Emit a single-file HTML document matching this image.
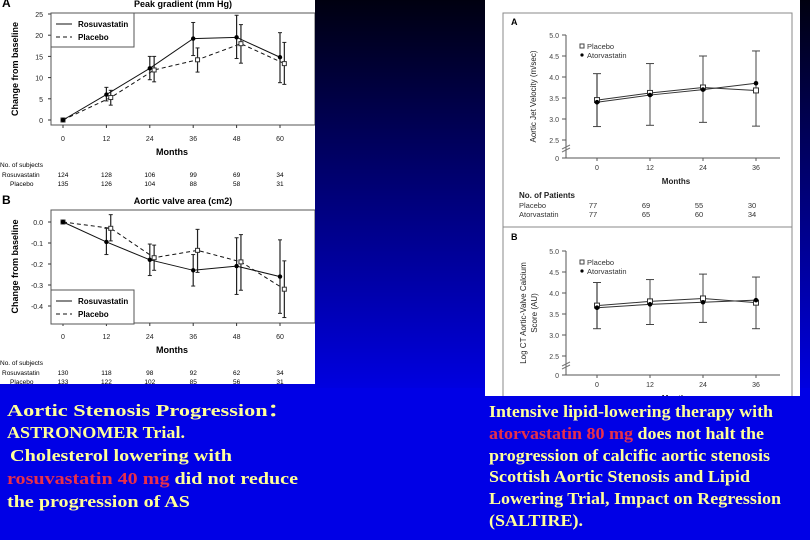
<!DOCTYPE html>
<html><head><meta charset="utf-8"><style>
html,body{margin:0;padding:0}
body{width:810px;height:540px;overflow:hidden;background:#0000e6;position:relative}
svg{position:absolute;left:0;top:0}
</style></head><body>
<svg id="s" width="810" height="540" viewBox="0 0 810 540" xmlns="http://www.w3.org/2000/svg">
<defs><linearGradient id="bg" x1="0" y1="0" x2="0" y2="1"><stop offset="0" stop-color="#000010"/><stop offset="1" stop-color="#0000e0"/></linearGradient>
<clipPath id="rc"><rect x="485" y="0" width="315" height="396"/></clipPath>
<clipPath id="lc"><rect x="0" y="0" width="315" height="384"/></clipPath></defs>
<rect x="0" y="0" width="810" height="388" fill="url(#bg)"/>
<rect x="0" y="0" width="315" height="384" fill="#fff"/>
<rect x="485" y="0" width="315" height="396" fill="#fff"/>
<g id="gl" clip-path="url(#lc)"></g>
<g id="gr" clip-path="url(#rc)"></g>
<g font-family="Liberation Serif, serif" font-weight="bold" font-size="17" fill="#ffff99">
<text x="7" y="416" textLength="283" lengthAdjust="spacingAndGlyphs">Aortic Stenosis Progression：</text>
<text x="7" y="438" textLength="178" lengthAdjust="spacingAndGlyphs">ASTRONOMER Trial.</text>
<text x="10" y="461" textLength="222" lengthAdjust="spacingAndGlyphs">Cholesterol lowering with</text>
<text x="7" y="484" textLength="291" lengthAdjust="spacingAndGlyphs"><tspan fill="#e8304a">rosuvastatin 40 mg</tspan> did not reduce</text>
<text x="7" y="507" textLength="183" lengthAdjust="spacingAndGlyphs">the progression of AS</text>
</g>
<g font-family="Liberation Serif, serif" font-weight="bold" font-size="17" fill="#ffff99">
<text x="489" y="417" textLength="284" lengthAdjust="spacingAndGlyphs">Intensive lipid-lowering therapy with</text>
<text x="489" y="439" textLength="275" lengthAdjust="spacingAndGlyphs"><tspan fill="#e8304a">atorvastatin 80 mg</tspan> does not halt the</text>
<text x="489" y="461" textLength="281" lengthAdjust="spacingAndGlyphs">progression of calcific aortic stenosis</text>
<text x="489" y="482" textLength="261" lengthAdjust="spacingAndGlyphs">Scottish Aortic Stenosis and Lipid</text>
<text x="489" y="504" textLength="292" lengthAdjust="spacingAndGlyphs">Lowering Trial, Impact on Regression</text>
<text x="489" y="526" textLength="94" lengthAdjust="spacingAndGlyphs">(SALTIRE).</text>
</g>
</svg>
<script>
// Left panel data (ASTRONOMER)
const monthsL=[0,12,24,36,48,60];
const pgRosu=[0,6,12.2,19.2,19.5,14.8];
const pgRosuLo=[0,4.5,9.5,15.2,14.5,8.8];
const pgRosuHi=[0,7.7,15,23,24.7,20.6];
const pgPlac=[0,5.3,11.8,14.2,18,13.3];
const pgPlacLo=[0,3.5,9,11.3,13.4,8.4];
const pgPlacHi=[0,7,15,17,22.5,18.3];
const pgTicks=[0,5,10,15,20,25];
const avRosu=[0,-0.095,-0.18,-0.23,-0.21,-0.26];
const avRosuLo=[0,-0.155,-0.255,-0.305,-0.345,-0.435];
const avRosuHi=[0,-0.03,-0.105,-0.155,-0.075,-0.085];
const avPlac=[0,-0.03,-0.17,-0.135,-0.19,-0.32];
const avPlacLo=[0,-0.09,-0.23,-0.24,-0.325,-0.455];
const avPlacHi=[0,0.035,-0.11,-0.035,-0.06,-0.185];
const avTicks=[0,-0.1,-0.2,-0.3,-0.4];
const avTickLabels=["0.0","-0.1","-0.2","-0.3","-0.4"];
const nA_Rosu=[124,128,106,99,69,34];
const nA_Plac=[135,126,104,88,58,31];
const nB_Rosu=[130,118,98,92,62,34];
const nB_Plac=[133,122,102,85,56,31];
// Right panel data (SALTIRE)
const monthsR=[0,12,24,36];
const velPlac=[3.45,3.62,3.75,3.68];
const velAtor=[3.4,3.57,3.7,3.85];
const velLo=[2.82,2.85,2.92,2.83];
const velHi=[4.08,4.32,4.5,4.62];
const caPlac=[3.7,3.8,3.87,3.77];
const caAtor=[3.65,3.73,3.78,3.83];
const caLo=[3.15,3.25,3.3,3.15];
const caHi=[4.25,4.32,4.45,4.38];
const rTicks=[2.5,3.0,3.5,4.0,4.5,5.0];
const rTickLabels=["2.5","3.0","3.5","4.0","4.5","5.0"];
const nR_Plac=[77,69,55,30];
const nR_Ator=[77,65,60,34];

const NS="http://www.w3.org/2000/svg";
const GL=document.getElementById('gl');
const GR=document.getElementById('gr');
let G=GL;
function mk(tag,attrs,parent,txt){const e=document.createElementNS(NS,tag);for(const k in attrs)e.setAttribute(k,attrs[k]);if(txt!==undefined)e.textContent=txt;(parent||G).appendChild(e);return e;}
function grp(name){const e=mk('g',{});


return e;}

// ---------- Left charts ----------
const xL=m=>63+m*(217/60);
const AF='Liberation Sans, Arial, sans-serif';
function leftChart(o){
  const g=grp(o.name);
  mk('rect',{x:51,y:o.top,width:264,height:o.bot-o.top,fill:'none',stroke:'#555','stroke-width':1},g);
  mk('text',{x:o.labX,y:o.top-6,'font-family':AF,'font-size':12,'font-weight':'bold',fill:'#000'},g,o.letter);
  mk('text',{x:183,y:o.top-6,'font-family':AF,'font-size':9,'font-weight':'bold','text-anchor':'middle',fill:'#000'},g,o.title);
  o.ticks.forEach((t,i)=>{const y=o.y(t);mk('line',{x1:48,x2:51,y1:y,y2:y,stroke:'#333'},g);
    mk('text',{x:43,y:y+3,'font-family':AF,'font-size':7,'text-anchor':'end',fill:'#222'},g,o.tickLabels[i]);});
  monthsL.forEach(m=>{mk('line',{x1:xL(m),x2:xL(m),y1:o.bot,y2:o.bot+3,stroke:'#333'},g);
    mk('text',{x:xL(m),y:o.bot+16,'font-family':AF,'font-size':7,'text-anchor':'middle',fill:'#222'},g,String(m));});
  mk('text',{x:172,y:o.bot+30,'font-family':AF,'font-size':9,'font-weight':'bold','text-anchor':'middle',fill:'#000'},g,'Months');
  mk('text',{x:18,y:(o.top+o.bot)/2,'font-family':AF,'font-size':9,'font-weight':'bold','text-anchor':'middle',fill:'#000',transform:`rotate(-90 18 ${(o.top+o.bot)/2})`},g,'Change from baseline');
  const ser=[{v:o.p,lo:o.pl,hi:o.ph,dx:1.2,dash:'4,3',fill:'#fff',nm:'placebo'},{v:o.r,lo:o.rl,hi:o.rh,dx:0,dash:'',fill:'#000',nm:'rosuvastatin'}];
  ser.forEach(s=>{
    const sg=grp(o.name+'-'+s.nm+'-series');g.appendChild(sg);
    const pts=monthsL.map((m,i)=>[xL(m+s.dx*(i>0?1:0)),o.y(s.v[i])]);
    const pl=mk('polyline',{points:pts.map(p=>p.join(',')).join(' '),fill:'none',stroke:'#111','stroke-width':1,'stroke-dasharray':s.dash},sg);
    
    monthsL.forEach((m,i)=>{const x=pts[i][0];
      if(i>0){mk('line',{x1:x,x2:x,y1:o.y(s.lo[i]),y2:o.y(s.hi[i]),stroke:'#222','stroke-width':1.2},sg);
      mk('line',{x1:x-2,x2:x+2,y1:o.y(s.lo[i]),y2:o.y(s.lo[i]),stroke:'#222'},sg);
      mk('line',{x1:x-2,x2:x+2,y1:o.y(s.hi[i]),y2:o.y(s.hi[i]),stroke:'#222'},sg);}
      const c=mk(s.fill==='#000'?'circle':'rect',s.fill==='#000'?{cx:x,cy:pts[i][1],r:2.2,fill:'#000'}:{x:x-2,y:pts[i][1]-2,width:4,height:4,fill:'#fff',stroke:'#333'},sg);
      
    });
  });
  const lg=grp(o.name+'-legend');g.appendChild(lg);
  mk('rect',{x:51,y:o.legY,width:83,height:34,fill:'#fff',stroke:'#555'},lg);
  mk('line',{x1:56,x2:72,y1:o.legY+11,y2:o.legY+11,stroke:'#111'},lg);
  mk('text',{x:78,y:o.legY+14,'font-family':AF,'font-size':8,'font-weight':'bold'},lg,'Rosuvastatin');
  mk('line',{x1:56,x2:72,y1:o.legY+24,y2:o.legY+24,stroke:'#111','stroke-dasharray':'4,3'},lg);
  mk('text',{x:78,y:o.legY+27,'font-family':AF,'font-size':8,'font-weight':'bold'},lg,'Placebo');
  const cg=grp(o.name+'-subject-counts');g.appendChild(cg);
  const cy=o.bot+39;
  mk('text',{x:0,y:cy+3,'font-family':AF,'font-size':6.5,fill:'#000'},cg,'No. of subjects');
  mk('text',{x:2,y:cy+13,'font-family':AF,'font-size':6.5,fill:'#000'},cg,'Rosuvastatin');
  mk('text',{x:10,y:cy+22,'font-family':AF,'font-size':6.5,fill:'#000'},cg,'Placebo');
  monthsL.forEach((m,i)=>{mk('text',{x:xL(m),y:cy+13,'font-family':AF,'font-size':6.5,'text-anchor':'middle'},cg,String(o.nr[i]));
    mk('text',{x:xL(m),y:cy+22,'font-family':AF,'font-size':6.5,'text-anchor':'middle'},cg,String(o.np[i]));});
}
leftChart({name:'peak-gradient-chart',letter:'A',labX:2,title:'Peak gradient (mm Hg)',top:13,bot:125,y:v=>120-v*(106/25),ticks:pgTicks,tickLabels:pgTicks.map(String),
  r:pgRosu,rl:pgRosuLo,rh:pgRosuHi,p:pgPlac,pl:pgPlacLo,ph:pgPlacHi,legY:13,nr:nA_Rosu,np:nA_Plac});
leftChart({name:'aortic-valve-area-chart',letter:'B',labX:2,title:'Aortic valve area (cm2)',top:210,bot:323,y:v=>222-v*210,ticks:avTicks,tickLabels:avTickLabels,
  r:avRosu,rl:avRosuLo,rh:avRosuHi,p:avPlac,pl:avPlacLo,ph:avPlacHi,legY:290,nr:nB_Rosu,np:nB_Plac});

// ---------- Right charts ----------
G=GR;
const xR=m=>597+m*(159/36);
const RF='Liberation Sans, Arial, sans-serif';
mk('rect',{x:503,y:13,width:289,height:400,fill:'none',stroke:'#888'});
mk('line',{x1:503,x2:792,y1:227,y2:227,stroke:'#888'});
function rightChart(o){
  const g=grp(o.name);
  const y=v=>o.y5+(5-v)*42;
  mk('text',{x:511,y:o.labY,'font-family':AF,'font-size':9,'font-weight':'bold'},g,o.letter);
  mk('line',{x1:566,x2:566,y1:o.y5,y2:o.y0,stroke:'#555'},g);
  mk('line',{x1:566,x2:780,y1:o.y0,y2:o.y0,stroke:'#555'},g);
  mk('line',{x1:562,x2:570,y1:o.y0-9,y2:o.y0-13,stroke:'#777'},g);
  mk('line',{x1:562,x2:570,y1:o.y0-6,y2:o.y0-10,stroke:'#777'},g);
  mk('line',{x1:562,x2:566,y1:o.y0,y2:o.y0,stroke:'#555'},g);
  mk('text',{x:559,y:o.y0+3,'font-family':RF,'font-size':7,'text-anchor':'end',fill:'#444'},g,'0');
  rTicks.forEach((t,i)=>{mk('line',{x1:562,x2:566,y1:y(t),y2:y(t),stroke:'#555'},g);
    mk('text',{x:559,y:y(t)+3,'font-family':RF,'font-size':7,'text-anchor':'end',fill:'#444'},g,rTickLabels[i]);});
  monthsR.forEach(m=>{mk('line',{x1:xR(m),x2:xR(m),y1:o.y0,y2:o.y0+3,stroke:'#555'},g);
    mk('text',{x:xR(m),y:o.y0+12,'font-family':RF,'font-size':7,'text-anchor':'middle',fill:'#333'},g,String(m));});
  mk('text',{x:676,y:o.y0+26,'font-family':RF,'font-size':8,'font-weight':'bold','text-anchor':'middle',fill:'#222'},g,'Months');
  const cy=(o.y5+o.y0)/2;
  o.ylab.forEach((l,k)=>mk('text',{x:o.ylx+k*11,y:cy,'font-family':RF,'font-size':8,'text-anchor':'middle',fill:'#222',transform:`rotate(-90 ${o.ylx+k*11} ${cy})`},g,l));
  monthsR.forEach((m,i)=>{const x=xR(m);
    const eb=mk('line',{x1:x,x2:x,y1:y(o.lo[i]),y2:y(o.hi[i]),stroke:i===0?'#888':'#444','stroke-width':i===0?2:1},g);
    
    mk('line',{x1:x-4,x2:x+4,y1:y(o.lo[i]),y2:y(o.lo[i]),stroke:'#444'},g);
    mk('line',{x1:x-4,x2:x+4,y1:y(o.hi[i]),y2:y(o.hi[i]),stroke:'#444'},g);});
  const pl=mk('polyline',{points:monthsR.map((m,i)=>xR(m)+','+y(o.p[i])).join(' '),fill:'none',stroke:'#333'},g);
  
  const al=mk('polyline',{points:monthsR.map((m,i)=>xR(m)+','+y(o.a[i])).join(' '),fill:'none',stroke:'#333'},g);
  
  monthsR.forEach((m,i)=>{
    const r=mk('rect',{x:xR(m)-2.5,y:y(o.p[i])-2.5,width:5,height:5,fill:'#fff',stroke:'#333'},g);
    
    const c=mk('circle',{cx:xR(m),cy:y(o.a[i]),r:2.3,fill:'#000'},g);
    });
  const lg=grp(o.name+'-legend');g.appendChild(lg);
  mk('rect',{x:580,y:o.y5+9,width:4,height:4,fill:'#fff',stroke:'#444'},lg);
  mk('text',{x:587,y:o.y5+14,'font-family':RF,'font-size':7.5,fill:'#333'},lg,'Placebo');
  mk('circle',{cx:582,cy:o.y5+20,r:1.6,fill:'#000'},lg);
  mk('text',{x:587,y:o.y5+23,'font-family':RF,'font-size':7.5,fill:'#333'},lg,'Atorvastatin');
}
rightChart({name:'aortic-jet-velocity-chart',letter:'A',labY:25,y5:35,y0:158,p:velPlac,a:velAtor,lo:velLo,hi:velHi,ylab:['Aortic Jet Velocity (m/sec)'],ylx:536});
rightChart({name:'calcium-score-chart',letter:'B',labY:240,y5:251,y0:375,p:caPlac,a:caAtor,lo:caLo,hi:caHi,ylab:['Log CT Aortic-Valve Calcium','Score (AU)'],ylx:526});
const pt=grp('patients-table');
mk('text',{x:519,y:198,'font-family':RF,'font-size':8,'font-weight':'bold',fill:'#222'},pt,'No. of Patients');
mk('text',{x:519,y:208,'font-family':RF,'font-size':7.5,fill:'#333'},pt,'Placebo');
mk('text',{x:519,y:217,'font-family':RF,'font-size':7.5,fill:'#333'},pt,'Atorvastatin');
monthsR.forEach((m,i)=>{mk('text',{x:xR(m)-4,y:208,'font-family':RF,'font-size':7.5,'text-anchor':'middle',fill:'#333'},pt,String(nR_Plac[i]));
  mk('text',{x:xR(m)-4,y:217,'font-family':RF,'font-size':7.5,'text-anchor':'middle',fill:'#333'},pt,String(nR_Ator[i]));});
</script>
</body></html>
